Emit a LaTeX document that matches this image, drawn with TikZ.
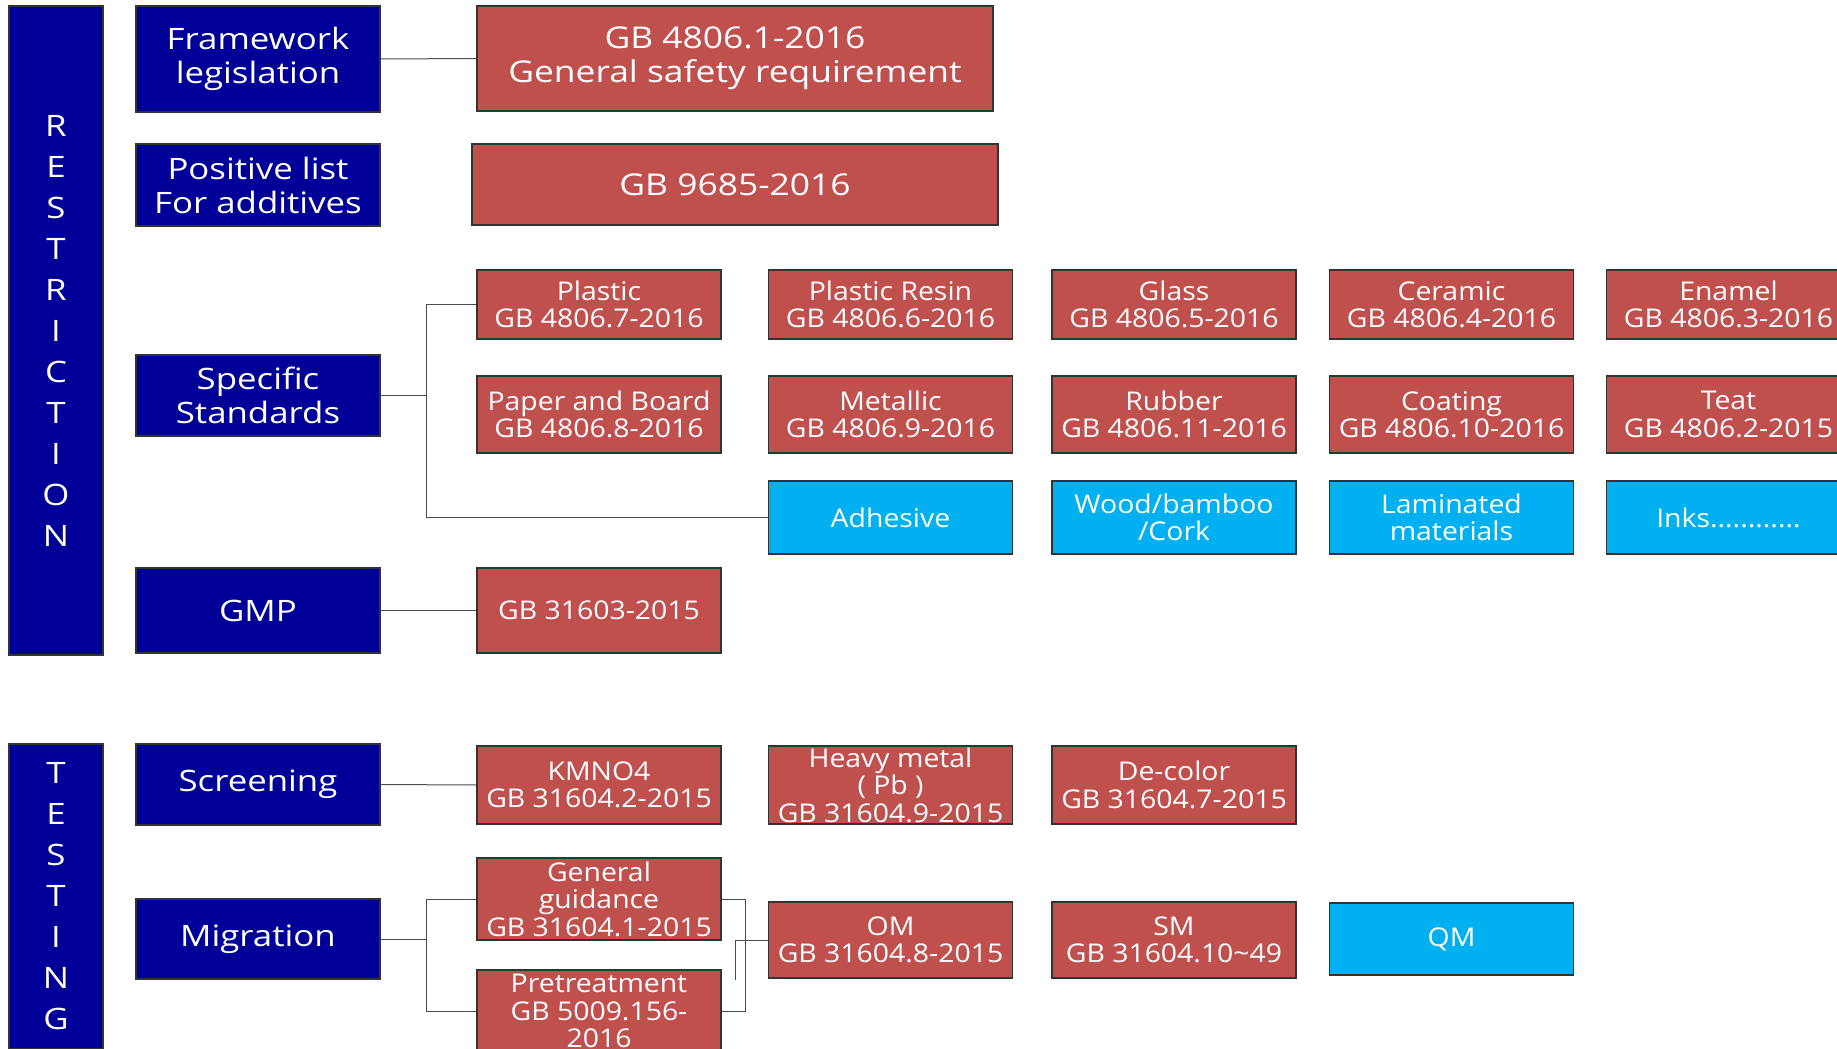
\documentclass[tikz,border=0pt]{standalone}
\usepackage{fontspec}
\setmainfont[FakeStretch=1.1]{Open Sans}
\newfontfamily\widefont[FakeStretch=1.18]{Open Sans}
\usetikzlibrary{positioning,calc}

\definecolor{navyblu}{RGB}{0,0,153}
\definecolor{rosso}{RGB}{192,80,77}
\definecolor{azzurro}{RGB}{0,176,240}

\begin{document}
\begin{tikzpicture}[x=1pt,y=-1pt]
    % Stili
    \tikzset{
        bar/.style={rectangle, draw=black!80, line width=1.2pt, fill=navyblu, text=white, minimum width=94pt, inner sep=0pt, align=center, font=\widefont\fontsize{29.5}{41}\selectfont},
        group/.style={rectangle, draw=black!80, line width=1.2pt, fill=navyblu, text=white, minimum width=244pt, inner sep=0pt, align=center, font=\widefont\fontsize{29.5}{34}\selectfont},
        law/.style={rectangle, draw=black!80, line width=1.2pt, fill=rosso, text=white, inner sep=0pt, align=center, font=\widefont\fontsize{30}{34}\selectfont},
        std/.style={rectangle, draw=black!80, line width=1.2pt, fill=rosso, text=white, minimum width=244pt, inner sep=0pt, align=center, font=\fontsize{25.8}{27.5}\selectfont},
        todo/.style={std, fill=azzurro},
        link/.style={draw=black!70, line width=1pt}
    }
    \useasboundingbox (0,0) rectangle (1837,1049);

    % Barre laterali
    \node[bar, minimum height=649pt] (restr) at (56,330.5) {R\\E\\S\\T\\R\\I\\C\\T\\I\\O\\N};
    \node[bar, minimum height=305pt] (test) at (56,896.5) {T\\E\\S\\T\\I\\N\\G};

    % Gruppi
    \node[group, minimum height=106pt] (frame) at (258,59) {Framework\\legislation};
    \node[group, minimum height=82pt] (poslist) at (258,185) {Positive list\\For additives};
    \node[group, minimum height=81pt] (spec) at (258,395.5) {Specific\\Standards};
    \node[group, minimum height=85pt] (gmp) at (258,610.5) {GMP};
    \node[group, minimum height=81pt] (screen) at (258,784.5) {Screening};
    \node[group, minimum height=80pt] (migr) at (258,939) {Migration};

    % Norme generali
    \node[law, minimum width=516pt, minimum height=105pt] (gbgen) at (735,58.5) {GB 4806.1-2016\\General safety requirement};
    \node[law, minimum width=526pt, minimum height=81pt] (gbadd) at (735,184.5) {GB 9685-2016};

    % Norme specifiche
    \node[std, minimum height=69pt] (plastic) at (599,304.5) {Plastic\\GB 4806.7-2016};
    \node[std, minimum height=69pt] (resin) at (890.5,304.5) {Plastic Resin\\GB 4806.6-2016};
    \node[std, minimum height=69pt] (glass) at (1174,304.5) {Glass\\GB 4806.5-2016};
    \node[std, minimum height=69pt] (ceramic) at (1451.5,304.5) {Ceramic\\GB 4806.4-2016};
    \node[std, minimum height=69pt] (enamel) at (1728.5,304.5) {Enamel\\GB 4806.3-2016};

    \node[std, minimum height=77pt] (paper) at (599,414.5) {Paper and Board\\GB 4806.8-2016};
    \node[std, minimum height=77pt] (metal) at (890.5,414.5) {Metallic\\GB 4806.9-2016};
    \node[std, minimum height=77pt] (rubber) at (1174,414.5) {Rubber\\GB 4806.11-2016};
    \node[std, minimum height=77pt] (coating) at (1451.5,414.5) {Coating\\GB 4806.10-2016};
    \node[std, minimum height=77pt] (teat) at (1728.5,414.5) {Teat\\GB 4806.2-2015};

    \node[todo, minimum height=73pt] (adhesive) at (890.5,517.5) {Adhesive};
    \node[todo, minimum height=73pt] (wood) at (1174,517.5) {Wood/bamboo\\/Cork};
    \node[todo, minimum height=73pt] (laminated) at (1451.5,517.5) {Laminated\\materials};
    \node[todo, minimum height=73pt] (inks) at (1728.5,517.5) {Inks............};

    \node[std, minimum height=85pt] (gbgmp) at (599,610.5) {GB 31603-2015};

    % Screening
    \node[std, minimum height=78pt] (kmno) at (599,785) {KMNO4\\GB 31604.2-2015};
    \node[std, minimum height=78pt] (heavy) at (890.5,785) {Heavy metal\\( Pb )\\GB 31604.9-2015};
    \node[std, minimum height=78pt] (decolor) at (1174,785) {De-color\\GB 31604.7-2015};

    % Migrazione
    \node[std, minimum height=82pt] (guide) at (599,899) {General\\guidance\\GB 31604.1-2015};
    \node[std, minimum height=82pt] (pretreat) at (599,1011) {Pretreatment\\GB 5009.156-\\2016};
    \node[std, minimum height=76pt] (om) at (890.5,940) {OM\\GB 31604.8-2015};
    \node[std, minimum height=76pt] (sm) at (1174,940) {SM\\GB 31604.10\textasciitilde 49};
    \node[todo, minimum height=72pt] (qm) at (1451.5,939) {QM};

    % Collegamenti
    \draw[link] (frame.east) -- (gbgen.west);
    \draw[link] (spec.east) -- ++(46,0) |- (plastic.west);
    \draw[link] (spec.east) -- ++(46,0) |- (adhesive.west);
    \draw[link] (gmp.east) -- (gbgmp.west);
    \draw[link] (screen.east) -- (kmno.west);
    \draw[link] (migr.east) -- ++(46,0) |- (guide.west);
    \draw[link] (migr.east) -- ++(46,0) |- (pretreat.west);
    \draw[link] (guide.east) -- ++(24,0) |- (pretreat.east);
    \draw[link] (om.west) -- ++(-32,0) -- ++(0,40);

\end{tikzpicture}
\end{document}
